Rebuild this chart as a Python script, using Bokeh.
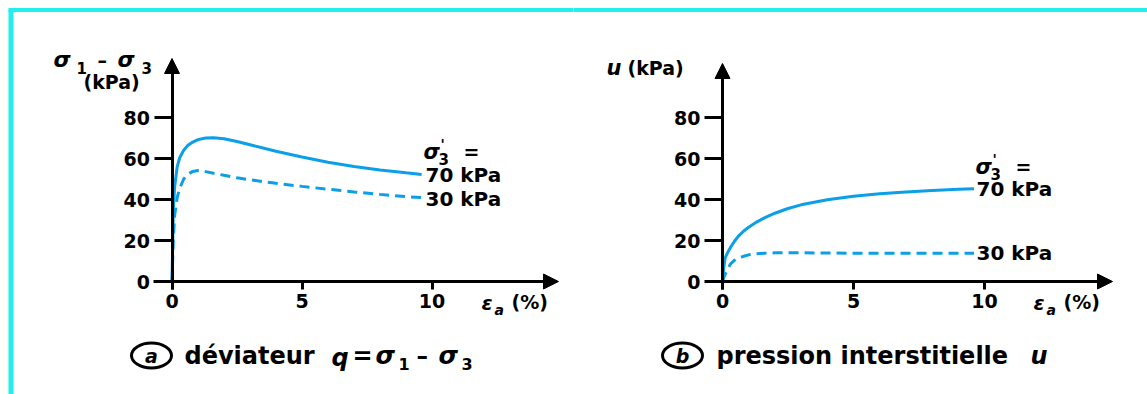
from bokeh.plotting import figure
from bokeh.layouts import row
from bokeh.models import LinearAxis, FixedTicker, Arrow, NormalHead, Label, Range1d
from bokeh.embed import file_html
from bokeh.resources import INLINE

# Axial strain (%) at which the curves are sampled
strain = [0, 0.05, 0.1, 0.2, 0.3, 0.45, 0.6, 0.8, 1.0, 1.3, 1.6, 2.0, 2.5,
          3.0, 4.0, 5.0, 6.0, 7.0, 8.0, 9.0, 9.6]

# Deviator stress q = sigma1 - sigma3 (kPa)
q_70 = [0, 35, 46, 56, 60.5, 64, 66.3, 68, 69.2, 70, 70.1, 69.6, 68.3,
        66.7, 63.5, 60.7, 58.2, 56.1, 54.4, 53, 52.2]
q_30 = [0, 20, 32, 41, 45.5, 50, 52.3, 53.7, 54.1, 53.6, 52.8, 51.8, 50.6,
        49.6, 47.9, 46.4, 45, 43.7, 42.5, 41.4, 40.9]

# Pore pressure u (kPa)
u_70 = [0, 7, 11.5, 14.2, 16.5, 19.5, 22, 24.5, 26.5, 29, 31, 33.3, 35.6,
        37.4, 39.9, 41.6, 42.8, 43.7, 44.4, 45, 45.3]
u_30 = [0, 2, 3.5, 6, 8.5, 10.3, 11.3, 12.3, 13, 13.5, 13.8, 14, 14,
        14, 13.9, 13.8, 13.8, 13.8, 13.8, 13.8, 13.8]

x_ticks = [0, 5, 10]
y_ticks = [0, 20, 40, 60, 80]
pressure_labels = ["70 kPa", "30 kPa"]

BLUE = "#0a9fe6"
CYAN = "#22eeee"
FONT = "DejaVu Sans"
H = 394


class Panel:
    """A figure whose frame fills its canvas; helpers convert canvas pixels to data."""

    def __init__(self, width, offset, ox, sx, oy, sy):
        self.offset, self.ox, self.sx, self.oy, self.sy = offset, ox, sx, oy, sy
        lx = ox - offset
        self.p = figure(width=width, height=H,
                        x_range=Range1d(-lx / sx, (width - lx) / sx),
                        y_range=Range1d((oy - H) / sy, oy / sy),
                        x_axis_type=None, y_axis_type=None,
                        output_backend="svg", toolbar_location=None,
                        min_border=0)
        self.p.outline_line_color = None
        self.p.background_fill_color = "white"

    def x(self, px):
        return (px - self.ox) / self.sx

    def y(self, py):
        return (self.oy - py) / self.sy

    def text(self, px, py, s, size=18, style="bold", align="left"):
        self.p.add_layout(Label(x=self.x(px), y=self.y(py), text=s,
                                text_font=FONT, text_font_size=f"{size}px",
                                text_font_style=style, text_align=align,
                                text_baseline="middle", text_color="black"))

    def axes(self, x_left, x_tip, y_bottom, y_tip):
        style = dict(axis_line_width=3, major_tick_line_width=3,
                     minor_tick_line_color=None, major_tick_in=0,
                     major_label_text_font=FONT,
                     major_label_text_font_style="bold",
                     major_label_text_font_size="19px",
                     major_label_text_color="black")
        xa = LinearAxis(fixed_location=0, bounds=(self.x(x_left), self.x(x_tip - 8)),
                        ticker=FixedTicker(ticks=x_ticks), major_tick_out=8,
                        major_label_standoff=4, **style)
        ya = LinearAxis(fixed_location=0, bounds=(self.y(y_bottom), self.y(y_tip + 8)),
                        ticker=FixedTicker(ticks=y_ticks), major_tick_out=18,
                        major_label_standoff=4, **style)
        self.p.add_layout(xa, "below")
        self.p.add_layout(ya, "left")
        head = dict(size=15, fill_color="black", line_color="black")
        self.p.add_layout(Arrow(end=NormalHead(**head), line_width=3,
                                x_start=self.x(x_tip - 14), y_start=0,
                                x_end=self.x(x_tip), y_end=0))
        self.p.add_layout(Arrow(end=NormalHead(**head), line_width=3,
                                x_start=0, y_start=self.y(y_tip + 14),
                                x_end=0, y_end=self.y(y_tip)))

    def sigma3_prime(self, px, py):
        self.text(px, py, "σ", 21, "bold italic")
        self.text(px + 17, py - 8, "'", 14, "bold")
        self.text(px + 15, py + 7, "3", 15, "bold")
        self.text(px + 40, py, "=", 19, "bold")

    def strain_title(self, px, py):
        self.text(px, py, "ε", 20, "bold italic")
        self.text(px + 13, py + 7, "a", 14, "bold italic")
        self.text(px + 30, py - 1, "(%)", 19, "bold")

    def circled(self, px, py, letter):
        self.p.ellipse(x=[self.x(px)], y=[self.y(py)], width=40, height=25,
                       width_units="screen", height_units="screen",
                       fill_color=None, line_color="black", line_width=3)
        self.text(px, py, letter, 19, "bold italic", align="center")


# ---- (a) deviator stress ----
a = Panel(573, 0, 171.5, 26.0, 281, 2.05)
pa = a.p
pa.segment(x0=[a.x(10.5)], y0=[a.y(9.5)], x1=[a.x(10.5)], y1=[a.y(400)],
           line_color=CYAN, line_width=5)
pa.segment(x0=[a.x(8)], y0=[a.y(9.5)], x1=[a.x(580)], y1=[a.y(9.5)],
           line_color=CYAN, line_width=4)
pa.line(strain, q_70, line_color=BLUE, line_width=3)
pa.line(strain, q_30, line_color=BLUE, line_width=3, line_dash="10 6")
a.axes(153, 558, 289, 58)
a.text(53, 59, "σ", 22, "bold italic")
a.text(76, 67, "1", 15, "bold")
a.text(97, 59, "–", 19, "bold")
a.text(117, 59, "σ", 22, "bold italic")
a.text(141, 67, "3", 15, "bold")
a.text(83, 81, "(kPa)", 19, "bold")
a.strain_title(481, 302)
a.sigma3_prime(423, 151)
a.text(425, 174, pressure_labels[0], 20)
a.text(425, 198, pressure_labels[1], 20)
a.circled(151, 355, "a")
a.text(184, 355, "déviateur", 24)
a.text(331, 357, "q", 24, "bold italic")
a.text(352, 355, "=", 24)
a.text(375, 355, "σ", 25, "bold italic")
a.text(398, 363, "1", 16, "bold")
a.text(416, 355, "–", 23)
a.text(438, 355, "σ", 25, "bold italic")
a.text(461, 363, "3", 16, "bold")

# ---- (b) pore pressure ----
b = Panel(574, 573, 722, 26.2, 281, 2.05)
pb = b.p
pb.segment(x0=[b.x(570)], y0=[b.y(9.5)], x1=[b.x(1150)], y1=[b.y(9.5)],
           line_color=CYAN, line_width=4)
pb.line(strain, u_70, line_color=BLUE, line_width=3)
pb.line(strain, u_30, line_color=BLUE, line_width=3, line_dash="10 6")
b.axes(705, 1112, 289, 63)
b.text(606, 67, "u", 21, "bold italic")
b.text(627, 67, "(kPa)", 19, "bold")
b.strain_title(1033, 302)
b.sigma3_prime(975, 166)
b.text(976, 188, pressure_labels[0], 20)
b.text(976, 252, pressure_labels[1], 20)
b.circled(682, 355, "b")
b.text(716, 355, "pression interstitielle", 24)
b.text(1030, 355, "u", 24, "bold italic")

layout = row(pa, pb, spacing=0)
open("out.html", "w").write(file_html(layout, INLINE))
